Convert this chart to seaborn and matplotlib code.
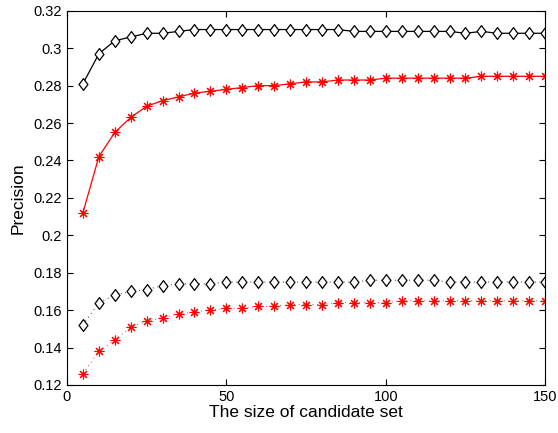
import numpy as np
import pandas as pd
import matplotlib
matplotlib.use("Agg")
import matplotlib.pyplot as plt
from matplotlib.path import Path
import seaborn as sns

sizes = list(range(5, 151, 5))
black_solid = [0.281, 0.297, 0.304, 0.306, 0.308, 0.308, 0.309, 0.310, 0.310, 0.310,
               0.310, 0.310, 0.310, 0.310, 0.310, 0.310, 0.310, 0.309, 0.309, 0.309,
               0.309, 0.309, 0.309, 0.309, 0.308, 0.309, 0.308, 0.308, 0.308, 0.308]
red_solid = [0.212, 0.242, 0.255, 0.263, 0.269, 0.272, 0.274, 0.276, 0.277, 0.278,
             0.279, 0.280, 0.280, 0.281, 0.282, 0.282, 0.283, 0.283, 0.283, 0.284,
             0.284, 0.284, 0.284, 0.284, 0.284, 0.285, 0.285, 0.285, 0.285, 0.285]
black_dotted = [0.152, 0.164, 0.168, 0.170, 0.171, 0.173, 0.174, 0.174, 0.174, 0.175,
                0.175, 0.175, 0.175, 0.175, 0.175, 0.175, 0.175, 0.175, 0.176, 0.176,
                0.176, 0.176, 0.176, 0.175, 0.175, 0.175, 0.175, 0.175, 0.175, 0.175]
red_dotted = [0.126, 0.138, 0.144, 0.151, 0.154, 0.156, 0.158, 0.159, 0.160, 0.161,
              0.161, 0.162, 0.162, 0.163, 0.163, 0.163, 0.164, 0.164, 0.164, 0.164,
              0.165, 0.165, 0.165, 0.165, 0.165, 0.165, 0.165, 0.165, 0.165, 0.165]

series = {"black_solid": black_solid, "red_solid": red_solid,
          "black_dotted": black_dotted, "red_dotted": red_dotted}
df = pd.DataFrame([{"size": s, "precision": v, "series": k}
                   for k, vals in series.items() for s, v in zip(sizes, vals)])

sns.set_style("ticks")
plt.rcParams['font.family'] = ['Liberation Sans', 'DejaVu Sans']
plt.rcParams['xtick.direction'] = 'in'
plt.rcParams['ytick.direction'] = 'in'
plt.rcParams['text.color'] = 'black'
plt.rcParams['axes.labelcolor'] = 'black'
plt.rcParams['xtick.color'] = 'black'
plt.rcParams['ytick.color'] = 'black'
plt.rcParams['axes.edgecolor'] = 'black'

fig = plt.figure(figsize=(5.58, 4.33), dpi=100)
ax = fig.add_axes([0.120, 0.111, 0.857, 0.864])

diamond = Path([(0, 1), (0.75, 0), (0, -1), (-0.75, 0), (0, 1)],
               [Path.MOVETO, Path.LINETO, Path.LINETO, Path.LINETO, Path.CLOSEPOLY])
asterisk = (8, 2, 0)
dots = (0, (0.8, 4))
styles = {
    "black_solid": dict(color="black", ls="-", lw=0.9, marker=diamond, mfc="white", ms=8.5, mew=0.9),
    "red_solid": dict(color="red", ls="-", lw=0.9, marker=asterisk, mfc="red", ms=7, mew=0.8),
    "black_dotted": dict(color="black", ls=dots, lw=0.7, marker=diamond, mfc="white", ms=8.5, mew=0.9),
    "red_dotted": dict(color="red", ls=dots, lw=0.7, marker=asterisk, mfc="red", ms=7, mew=0.8),
}
for name, st in styles.items():
    sub = df[df["series"] == name]
    sns.lineplot(data=sub, x="size", y="precision", ax=ax, lw=st["lw"],
                 color=st["color"], linestyle=st["ls"], marker=st["marker"],
                 markerfacecolor=st["mfc"], markeredgecolor=st["color"],
                 markersize=st["ms"], markeredgewidth=st["mew"], legend=False)

ax.set_xlim(0, 150)
ax.set_ylim(0.12, 0.32)
ax.set_xticks([0, 50, 100, 150])
ax.set_yticks(np.round(np.arange(0.12, 0.321, 0.02), 2))
ax.set_yticklabels(["0.12", "0.14", "0.16", "0.18", "0.2", "0.22", "0.24", "0.26", "0.28", "0.3", "0.32"])
ax.tick_params(axis="both", which="both", top=True, right=True, labelsize=10.5, length=4, width=0.8,
               colors="black")
for sp in ax.spines.values():
    sp.set_visible(True)
    sp.set_linewidth(0.8)
    sp.set_color("black")
ax.set_xlabel("The size of candidate set", fontsize=12.5, labelpad=1, color="black")
ax.set_ylabel("Precision", fontsize=12.5, labelpad=6, color="black")

fig.savefig("out.png", dpi=100)
